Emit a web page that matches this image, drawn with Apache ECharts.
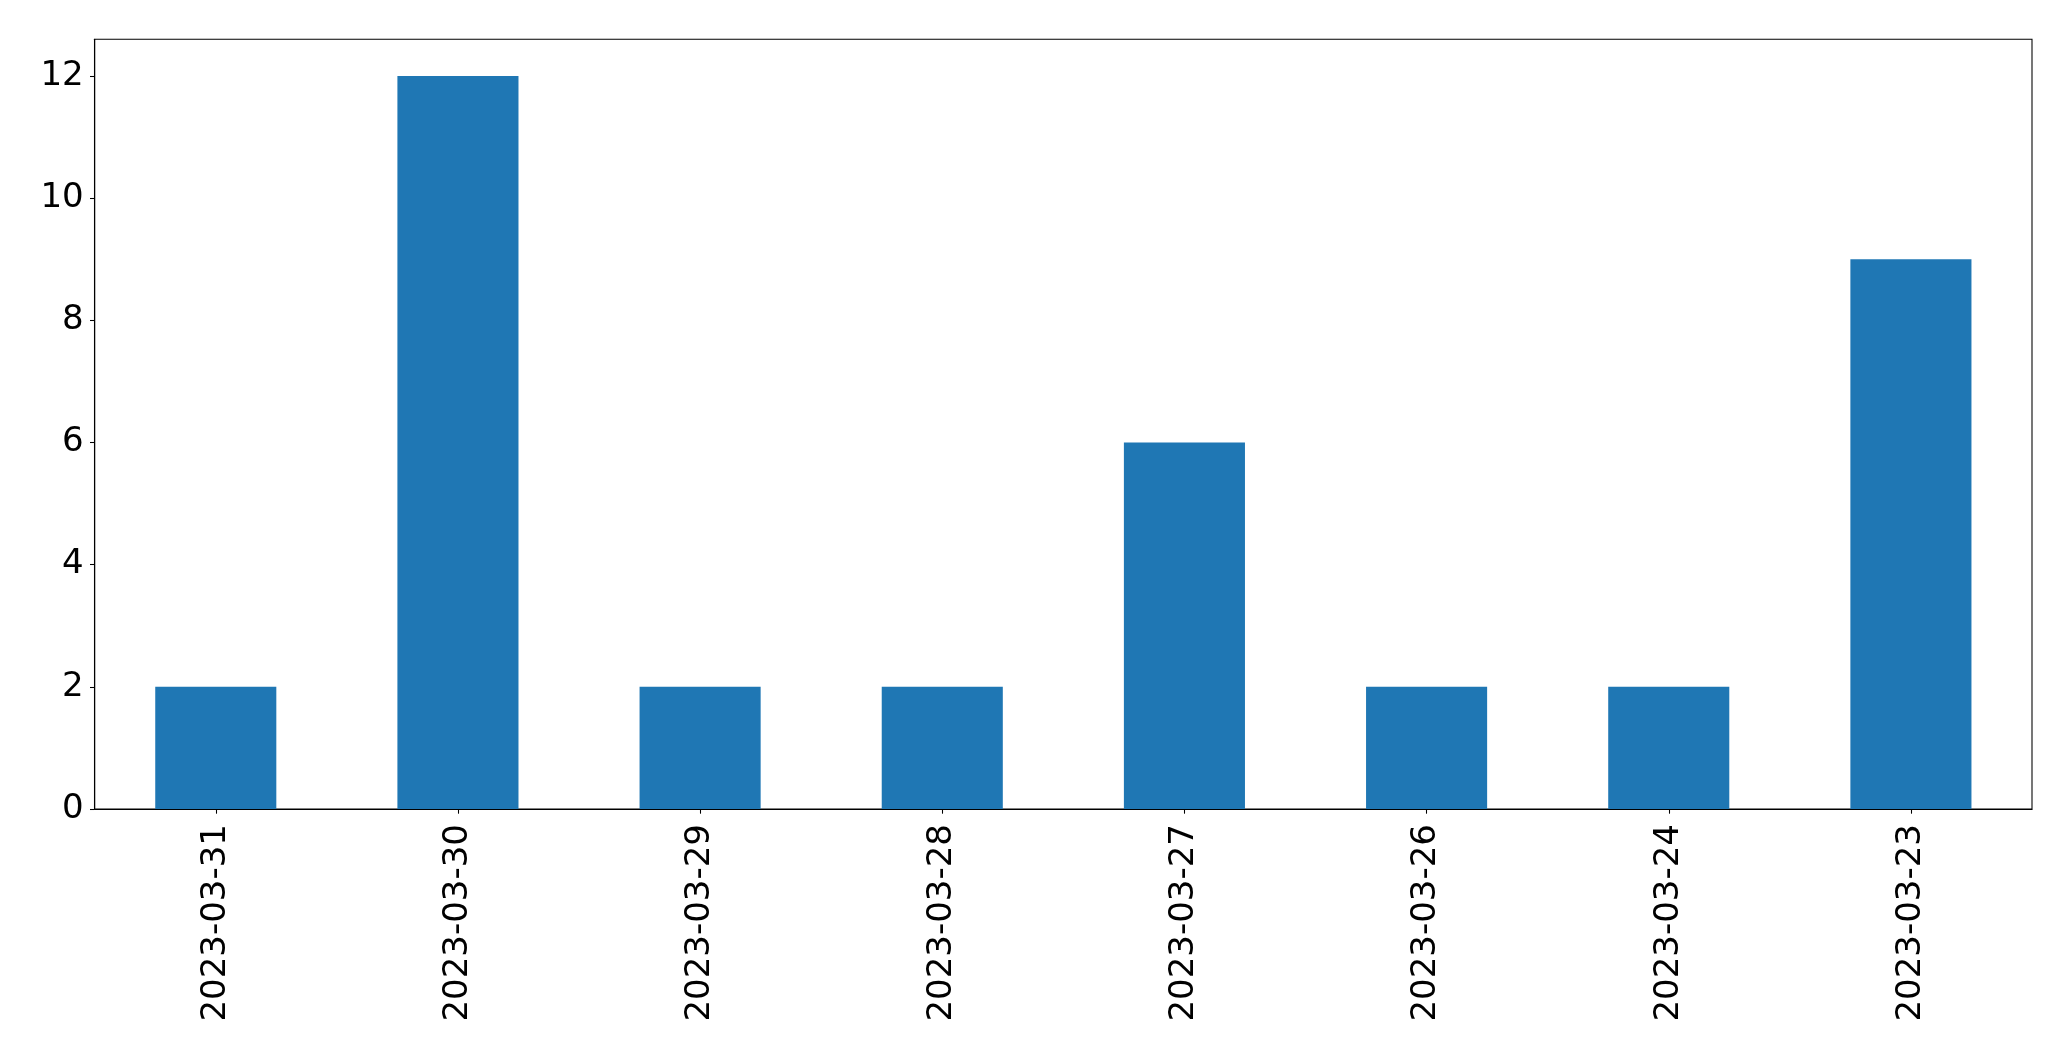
<!DOCTYPE html>
<html>
<head>
<meta charset="utf-8">
<script src="https://cdn.jsdelivr.net/npm/echarts@6/dist/echarts.min.js"></script>
<style>
html,body{margin:0;padding:0;background:#fff;}
#chart{width:2071px;height:1061px;}
</style>
</head>
<body>
<div id="chart"></div>
<script>
const categories = ["2023-03-31","2023-03-30","2023-03-29","2023-03-28","2023-03-27","2023-03-26","2023-03-24","2023-03-23"];
const values = [2, 12, 2, 2, 6, 2, 2, 9];
const yTicks = [0, 2, 4, 6, 8, 10, 12];

const chart = echarts.init(document.getElementById('chart'), null, {renderer: 'canvas'});
const font = 'DejaVu Sans';
chart.setOption({
  animation: false,
  backgroundColor: '#ffffff',
  grid: {
    left: 94.7, right: 39, top: 39.3, bottom: 252,
    show: true, borderColor: '#000000', borderWidth: 1.07, backgroundColor: 'transparent',
    containLabel: false
  },
  xAxis: {
    type: 'category',
    data: categories,
    boundaryGap: true,
    axisLine: {show: true, lineStyle: {color: '#000', width: 1.07}},
    axisTick: {show: true, alignWithLabel: true, length: 4.7, lineStyle: {color: '#000', width: 1.07}},
    axisLabel: {rotate: 90, fontFamily: font, fontSize: 34, color: '#000', margin: 15},
    splitLine: {show: false}
  },
  yAxis: {
    type: 'value',
    min: 0, max: 12.6, interval: 2,
    axisLine: {show: true, lineStyle: {color: '#000', width: 1.07}},
    axisTick: {show: true, length: 4.7, lineStyle: {color: '#000', width: 1.07}, customValues: yTicks},
    axisLabel: {fontFamily: font, fontSize: 34, color: '#000', margin: 11, customValues: yTicks},
    splitLine: {show: false}
  },
  series: [{
    type: 'bar',
    data: values,
    barWidth: '50%',
    itemStyle: {color: '#1f77b4'}
  }]
});
</script>
</body>
</html>
